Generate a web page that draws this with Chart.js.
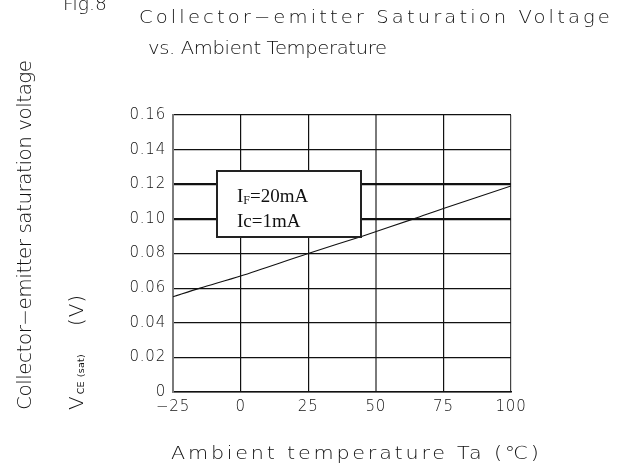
<!DOCTYPE html>
<html>
<head>
<meta charset="utf-8">
<style>
  html, body { margin: 0; padding: 0; background: #ffffff; }
  canvas { display: block; }
</style>
<script src="https://cdn.jsdelivr.net/npm/chart.js@4.4.0/dist/chart.umd.min.js"></script>
</head>
<body>
<canvas id="c" width="637" height="466"></canvas>
<script>
// ---- data ----
const temperature = [-25, -15, 0, 25, 45, 64, 75, 100];
const vceSat = [0.055, 0.060, 0.067, 0.080, 0.090, 0.100, 0.106, 0.119];
const xTickValues = [-25, 0, 25, 50, 75, 100];
const xTickLabels = ['\u221225', '0', '25', '50', '75', '100'];
const yTickValues = [0, 0.02, 0.04, 0.06, 0.08, 0.10, 0.12, 0.14, 0.16];
const yTickLabels = ['0', '0.02', '0.04', '0.06', '0.08', '0.10', '0.12', '0.14', '0.16'];
const titleLines = ['Collector\u2212emitter Saturation Voltage', 'vs. Ambient Temperature'];
const figLabel = 'Fig.8';
const yTitle = 'Collector\u2212emitter saturation voltage';
const xTitle = 'Ambient temperature Ta (\u2103)';
const boxLines = [['I', 'F', '=20mA'], ['Ic=1mA']];
const boxRange = { xMin: -8.7, xMax: 44.5, yMin: 0.0895, yMax: 0.1277 };

const FONT = "'DejaVu Sans', sans-serif";

// draw text stretched horizontally by sx and letter-spaced so it spans `span` px
function spaced(ctx, text, x, y, span, font, sx) {
  sx = sx || 1;
  ctx.save();
  ctx.translate(x, y);
  ctx.scale(sx, 1);
  ctx.font = font;
  ctx.letterSpacing = '0px';
  const w = ctx.measureText(text).width;
  const s = text.length > 1 ? (span / sx - w) / (text.length - 1) : 0;
  ctx.letterSpacing = s.toFixed(2) + 'px';
  ctx.fillText(text, 0, 0);
  ctx.letterSpacing = '0px';
  ctx.restore();
}

const textPlugin = {
  id: 'texts',
  beforeDraw(chart) {
    chart.ctx.letterSpacing = '0.8px';
  },
  beforeDatasetsDraw(chart) {
    chart.ctx.letterSpacing = '0px';
  },
  afterDatasetsDraw(chart) {
    const ctx = chart.ctx;
    const xs = chart.scales.x, ys = chart.scales.y;
    // annotation box
    const bx0 = Math.round(xs.getPixelForValue(boxRange.xMin));
    const bx1 = Math.round(xs.getPixelForValue(boxRange.xMax));
    const by0 = Math.round(ys.getPixelForValue(boxRange.yMax));
    const by1 = Math.round(ys.getPixelForValue(boxRange.yMin));
    ctx.save();
    ctx.fillStyle = '#ffffff';
    ctx.fillRect(bx0, by0, bx1 - bx0, by1 - by0);
    ctx.strokeStyle = '#222222';
    ctx.lineWidth = 2;
    ctx.strokeRect(bx0, by0, bx1 - bx0, by1 - by0);
    ctx.fillStyle = '#111111';
    ctx.textBaseline = 'alphabetic';
    ctx.textAlign = 'left';
    const serif = "'Liberation Serif', 'Times New Roman', serif";
    let tx = bx0 + 20;
    ctx.font = '19px ' + serif;
    ctx.fillText(boxLines[0][0], tx, by0 + 31);
    tx += ctx.measureText(boxLines[0][0]).width;
    ctx.font = '12px ' + serif;
    ctx.fillText(boxLines[0][1], tx, by0 + 33);
    tx += ctx.measureText(boxLines[0][1]).width;
    ctx.font = '19px ' + serif;
    ctx.fillText(boxLines[0][2], tx, by0 + 31);
    ctx.fillText(boxLines[1][0], bx0 + 20, by0 + 56);
    ctx.restore();
  },
  afterDraw(chart) {
    const ctx = chart.ctx;
    ctx.save();
    ctx.fillStyle = '#111111';
    ctx.textAlign = 'left';
    ctx.textBaseline = 'alphabetic';
    // fig label & title
    spaced(ctx, figLabel, 63, 10, 44, '200 17px ' + FONT, 1.1);
    spaced(ctx, titleLines[0], 139, 23, 471, '200 17px ' + FONT, 1.15);
    spaced(ctx, titleLines[1], 148, 54, 239, '200 17px ' + FONT, 1.15);
    // x title
    spaced(ctx, xTitle, 171, 459, 368, '200 18px ' + FONT, 1.15);
    // y title (rotated)
    ctx.save();
    ctx.translate(31, 410);
    ctx.rotate(-Math.PI / 2);
    spaced(ctx, yTitle, 0, 0, 350, '200 19px ' + FONT, 1.05);
    ctx.restore();
    // V CE(sat) (V)
    ctx.save();
    ctx.translate(83, 410);
    ctx.rotate(-Math.PI / 2);
    ctx.font = '200 20px ' + FONT;
    ctx.fillText('V', 0, 0);
    const p = ctx.measureText('V').width + 2;
    ctx.font = '9.5px ' + FONT;
    ctx.letterSpacing = '0.3px';
    ctx.fillText('CE', p, 1);
    ctx.fillText('(sat)', p + 17, 1);
    ctx.letterSpacing = '0px';
    spaced(ctx, '(V)', 84, 0, 31, '200 20px ' + FONT, 1);
    ctx.restore();
    ctx.restore();
  }
};

new Chart(document.getElementById('c'), {
  type: 'line',
  data: {
    datasets: [{
      data: temperature.map((t, i) => ({ x: t, y: vceSat[i] })),
      borderColor: '#111111',
      borderWidth: 1.1,
      pointRadius: 0,
      tension: 0.3,
      fill: false
    }]
  },
  options: {
    responsive: false,
    animation: false,
    events: [],
    layout: { padding: { top: 115, right: 126, left: 0, bottom: 0 } },
    plugins: { legend: { display: false }, tooltip: { enabled: false }, title: { display: false } },
    scales: {
      x: {
        type: 'linear',
        min: -25, max: 100,
        afterBuildTicks: s => { s.ticks = xTickValues.map(v => ({ value: v })); },
        afterFit: s => { s.height = 74; },
        ticks: {
          callback: (v, i) => xTickLabels[i],
          color: '#111111',
          font: { family: FONT, size: 15, weight: 200 },
          padding: 6,
          maxRotation: 0,
          autoSkip: false
        },
        grid: {
          drawTicks: false,
          color: c => (c.tick && (c.tick.value === 50 || c.tick.value === -25)) ? '#7a7a7a' : (c.tick && c.tick.value === 100 ? '#444444' : '#111111'),
          lineWidth: c => (c.tick && (c.tick.value === 50 || c.tick.value === -25)) ? 2 : 1.2
        },
        border: { display: true, color: '#111111', width: 1.5 }
      },
      y: {
        type: 'linear',
        min: 0, max: 0.16,
        afterBuildTicks: s => { s.ticks = yTickValues.map(v => ({ value: v })); },
        afterFit: s => { s.width = 173; },
        ticks: {
          callback: (v, i) => yTickLabels[i],
          color: '#111111',
          font: { family: FONT, size: 15, weight: 200 },
          padding: 7,
          autoSkip: false
        },
        grid: {
          drawTicks: false,
          color: '#111111',
          lineWidth: c => (c.tick && (Math.abs(c.tick.value - 0.10) < 1e-6 || Math.abs(c.tick.value - 0.12) < 1e-6)) ? 2.2 : 1.2
        },
        border: { display: true, color: '#7a7a7a', width: 2 }
      }
    }
  },
  plugins: [textPlugin]
});
</script>
</body>
</html>
